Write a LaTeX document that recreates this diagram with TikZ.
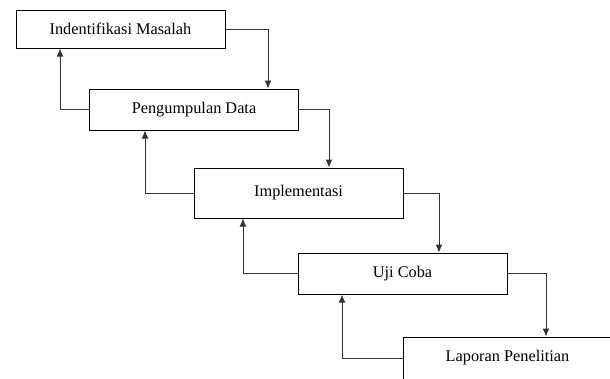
\documentclass[tikz,border=0pt]{standalone}
\usepackage{fontspec}
\setmainfont{Liberation Serif}
\usetikzlibrary{arrows.meta}

\tikzset{
  stage/.style={draw=black, line width=1pt, minimum width=209pt,
    inner sep=0pt, font=\fontsize{16.3}{19}\selectfont},
  flow/.style={draw=black!80, line width=1pt, -{Latex[length=8pt,width=7pt]}}
}

\begin{document}
\begin{tikzpicture}[x=1pt, y=-1pt]

  % === Waterfall-style research stages ===
  \useasboundingbox (0,0) rectangle (610,378);
  \clip (0,0) rectangle (610,378);

  % Stage boxes (pixel grid, y pointing down)
  \node[stage, minimum height=38pt] (ident) at (120.5,29) {Indentifikasi Masalah};
  \node[stage, minimum height=41pt] (data)  at (194,109.5) {Pengumpulan Data};
  \node[stage, minimum height=50pt] (impl)  at (298.5,193) {Implementasi};
  \node[stage, minimum height=41pt] (uji)   at (402.5,273.5) {Uji Coba};
  \node[stage, minimum height=42pt] (lapor) at (507.5,358) {Laporan Penelitian};

  % Forward steps (right side, down)
  \draw[flow] (ident.east) -| (data.north -| 268,0);
  \draw[flow] (data.east)  -| (impl.north -| 329,0);
  \draw[flow] (impl.east)  -| (uji.north -| 439,0);
  \draw[flow] (uji.east)   -| (lapor.north -| 546,0);

  % Feedback steps (left side, up)
  \draw[flow] (data.west)  -| (ident.south -| 60,0);
  \draw[flow] (impl.west)  -| (data.south -| 145,0);
  \draw[flow] (uji.west)   -| (impl.south -| 243,0);
  \draw[flow] (lapor.west) -| (uji.south -| 342,0);

\end{tikzpicture}
\end{document}
